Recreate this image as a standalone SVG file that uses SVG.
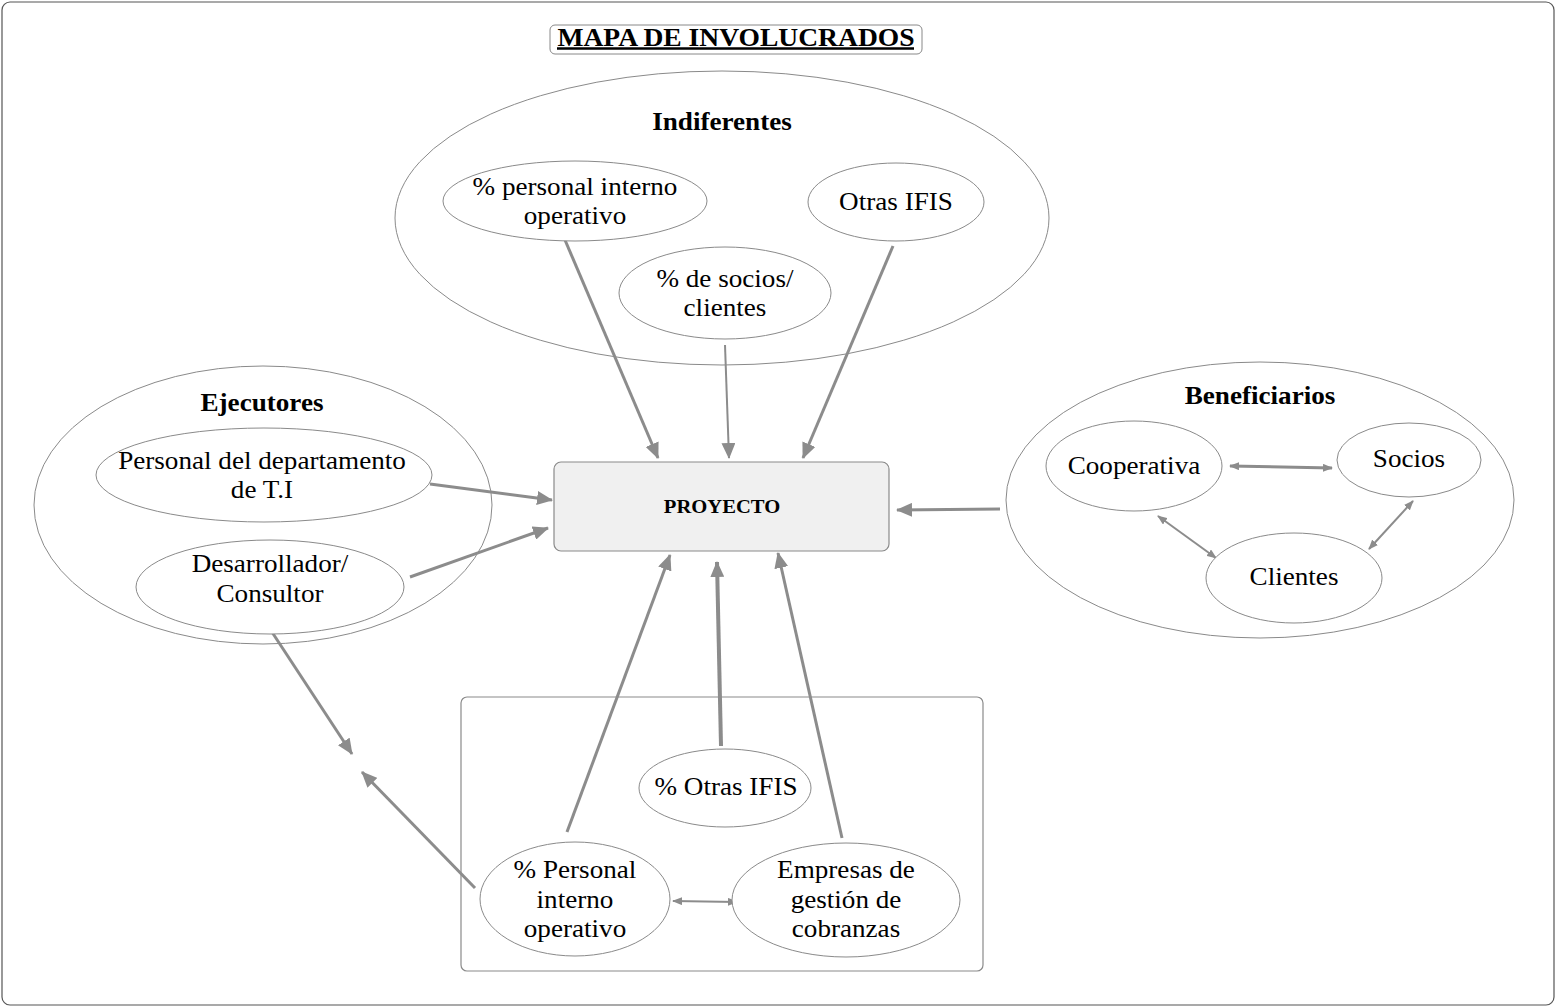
<svg xmlns="http://www.w3.org/2000/svg" width="1557" height="1008" viewBox="0 0 1557 1008">
<defs>
<style>
.t{font-family:"Liberation Serif","Times New Roman",serif;font-size:25px;fill:#000;text-anchor:middle;transform-box:fill-box;transform-origin:center;transform:scaleX(1.085)}
.b{font-weight:bold}
.ti{font-size:26px;transform:scaleX(1.06)}
.el{fill:#fff;stroke:#8a8a8a;stroke-width:1}
.grp{fill:none;stroke:#8a8a8a;stroke-width:1}
.a{stroke:#8c8c8c;stroke-width:3;fill:none;marker-end:url(#ah)}
.s{stroke:#8c8c8c;stroke-width:2;fill:none;marker-end:url(#sh);marker-start:url(#sh)}
</style>
<marker id="ah" markerUnits="userSpaceOnUse" markerWidth="16" markerHeight="14" refX="15" refY="7" orient="auto"><path d="M0,0 L16,7 L0,14 z" fill="#8c8c8c"/></marker>
<marker id="sh" markerUnits="userSpaceOnUse" markerWidth="10" markerHeight="8" refX="9" refY="4" orient="auto-start-reverse"><path d="M0,0 L10,4 L0,8 z" fill="#8c8c8c"/></marker>
</defs>
<rect x="2" y="2" width="1552" height="1003" rx="8" fill="#fff" stroke="#555" stroke-width="1.2"/>
<g id="title">
<rect x="550" y="25" width="372" height="29" rx="5" fill="#fff" stroke="#888" stroke-width="1"/>
<text class="t b ti" x="736" y="46">MAPA DE INVOLUCRADOS</text>
<line x1="557" y1="48.5" x2="914" y2="48.5" stroke="#000" stroke-width="2.5"/>
</g>
<g id="indiferentes">
<ellipse class="grp" cx="722" cy="218" rx="327" ry="147"/>
<text class="t b" x="722" y="130">Indiferentes</text>
</g>
<g id="ejecutores">
<ellipse class="grp" cx="263" cy="505" rx="229" ry="139"/>
<text class="t b" x="262" y="411">Ejecutores</text>
</g>
<g id="beneficiarios">
<ellipse class="grp" cx="1260" cy="500" rx="254" ry="138"/>
<text class="t b" x="1260" y="404">Beneficiarios</text>
</g>
<g id="grupo-inferior">
<rect x="461" y="697" width="522" height="274" rx="6" fill="none" stroke="#8a8a8a" stroke-width="1.2"/>
</g>
<g id="connectors">
<line class="a" x1="565" y1="240" x2="658" y2="458"/>
<line class="a" x1="725" y1="345" x2="729" y2="458" style="stroke-width:2"/>
<line class="a" x1="893" y1="246" x2="803" y2="458"/>
<line class="a" x1="430" y1="484" x2="552" y2="500"/>
<line class="a" x1="410" y1="577" x2="548" y2="528"/>
<line class="a" x1="1000" y1="509" x2="897" y2="510"/>
<line class="a" x1="567" y1="832" x2="670" y2="555"/>
<line class="a" x1="721" y1="746" x2="717" y2="562" style="stroke-width:4"/>
<line class="a" x1="842" y1="838" x2="778" y2="553"/>
<line class="a" x1="268" y1="626" x2="352" y2="754"/>
<line class="a" x1="475" y1="888" x2="362" y2="772"/>
<line class="s" x1="1230" y1="466" x2="1332" y2="468" style="stroke-width:3"/>
<line class="s" x1="1158" y1="516" x2="1216" y2="558"/>
<line class="s" x1="1413" y1="501" x2="1369" y2="549"/>
<line class="s" x1="673" y1="901" x2="737" y2="902"/>
</g>
<g id="n-personal-interno">
<ellipse class="el" cx="575" cy="201" rx="132" ry="40"/>
<text class="t" x="575" y="195">% personal interno</text>
<text class="t" x="575" y="224">operativo</text>
</g>
<g id="n-otras-ifis">
<ellipse class="el" cx="896" cy="202" rx="88" ry="39"/>
<text class="t" x="896" y="210">Otras IFIS</text>
</g>
<g id="n-socios-clientes">
<ellipse class="el" cx="725" cy="293" rx="106" ry="46"/>
<text class="t" x="725" y="287">% de socios/</text>
<text class="t" x="725" y="316">clientes</text>
</g>
<g id="n-personal-ti">
<ellipse class="el" cx="264" cy="475" rx="168" ry="47"/>
<text class="t" x="262" y="469">Personal del departamento</text>
<text class="t" x="262" y="498">de T.I</text>
</g>
<g id="n-desarrollador">
<ellipse class="el" cx="270" cy="587" rx="134" ry="47"/>
<text class="t" x="270" y="572">Desarrollador/</text>
<text class="t" x="270" y="602">Consultor</text>
</g>
<g id="n-proyecto">
<rect x="554" y="462" width="335" height="89" rx="7" fill="#f0f0f0" stroke="#8a8a8a" stroke-width="1.2"/>
<text class="t b" x="722" y="513" style="font-size:19px">PROYECTO</text>
</g>
<g id="n-cooperativa">
<ellipse class="el" cx="1134" cy="466" rx="88" ry="45"/>
<text class="t" x="1134" y="474">Cooperativa</text>
</g>
<g id="n-socios">
<ellipse class="el" cx="1409" cy="460" rx="72" ry="37"/>
<text class="t" x="1409" y="467">Socios</text>
</g>
<g id="n-clientes">
<ellipse class="el" cx="1294" cy="578" rx="88" ry="45"/>
<text class="t" x="1294" y="585">Clientes</text>
</g>
<g id="n-otras-ifis-pct">
<ellipse class="el" cx="725" cy="788" rx="86" ry="39"/>
<text class="t" x="726" y="795">% Otras IFIS</text>
</g>
<g id="n-personal-interno-op">
<ellipse class="el" cx="575" cy="899" rx="95" ry="57"/>
<text class="t" x="575" y="878">% Personal</text>
<text class="t" x="575" y="908">interno</text>
<text class="t" x="575" y="937">operativo</text>
</g>
<g id="n-empresas">
<ellipse class="el" cx="846" cy="900" rx="114" ry="57"/>
<text class="t" x="846" y="878">Empresas de</text>
<text class="t" x="846" y="908">gestión de</text>
<text class="t" x="846" y="937">cobranzas</text>
</g>
</svg>
